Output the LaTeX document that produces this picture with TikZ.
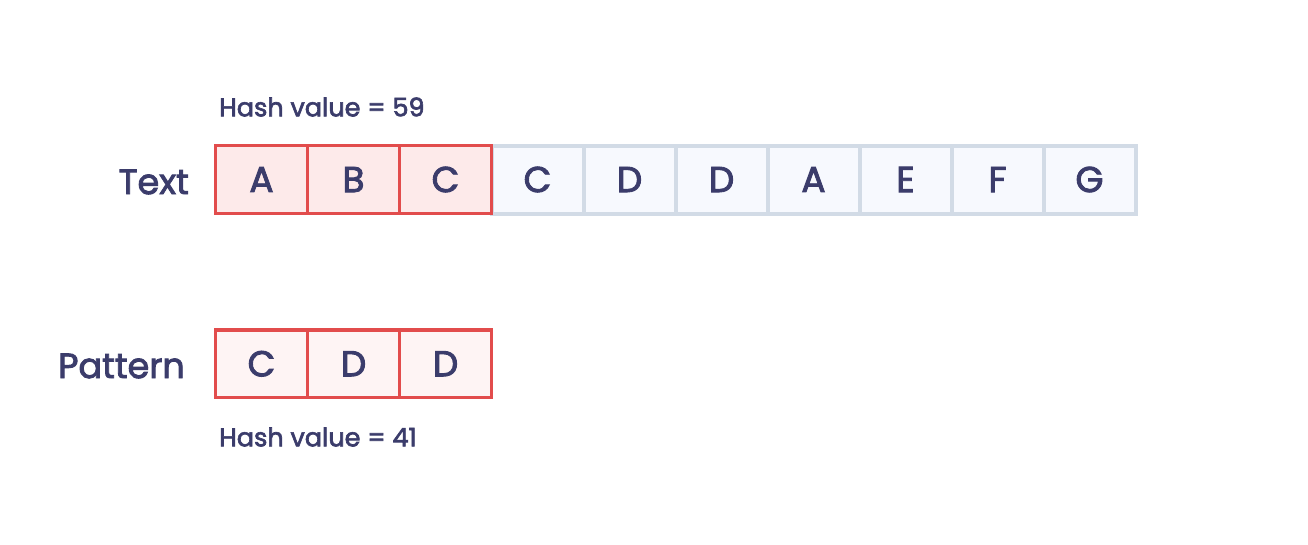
\documentclass[tikz,border=0pt]{standalone}
\usepackage{fontspec}
\setmainfont{Poppins}
\newfontfamily\medfont{Poppins}[FakeBold=2.5]
\definecolor{ink}{HTML}{3B3C6B}
\definecolor{redl}{HTML}{E24C4C}
\definecolor{pinkA}{HTML}{FDEAEA}
\definecolor{pinkB}{HTML}{FEF4F4}
\definecolor{grayl}{HTML}{D2DBE6}
\definecolor{grayf}{HTML}{F7F9FE}
\begin{document}
\begin{tikzpicture}[x=1pt,y=-1pt,
  cell/.style={rectangle,draw=grayl,fill=grayf,line width=4pt,minimum width=92pt,minimum height=68pt,inner sep=0pt,text=ink,font=\medfont\fontsize{36}{40}\selectfont},
  rcell/.style={rectangle,draw=redl,fill=pinkA,line width=3.2pt,minimum width=92pt,minimum height=68pt,inner sep=0pt,text=ink,font=\medfont\fontsize{36}{40}\selectfont},
  pcell/.style={rcell,fill=pinkB,minimum height=67.5pt},
  lbl/.style={text=ink,inner sep=0pt,font=\medfont\fontsize{35}{38}\selectfont},
  hash/.style={text=ink,inner sep=0pt,font=\medfont\fontsize{25.5}{28}\selectfont}]
\useasboundingbox (0,0) rectangle (1308,544);
\fill[white] (0,0) rectangle (1308,544);
% text row
\foreach \l [count=\i] in {C,D,D,A,E,F,G}{
  \node[cell] (t\the\numexpr\i+3\relax) at ({215.5+92*(\i+3-0.5)},179.5) {\l};
}
\node[rcell] (t1) at (261.5,179.5) {A};
\node[rcell] (t2) at (353.5,179.5) {B};
\node[rcell] (t3) at (445.5,179.5) {C};
% pattern row
\node[pcell] (p1) at (261.5,363.75) {C};
\node[pcell] (p2) at (353.5,363.75) {D};
\node[pcell] (p3) at (445.5,363.75) {D};
% labels
\node[lbl,anchor=east] (ltext) at (189,182) {Text};
\node[lbl,anchor=east] (lpat) at (185,366) {Pattern};
\node[hash,anchor=west] (h1) at (219,107) {Hash value = 59};
\node[hash,anchor=west] (h2) at (219,437) {Hash value = 41};
\end{tikzpicture}
\end{document}
